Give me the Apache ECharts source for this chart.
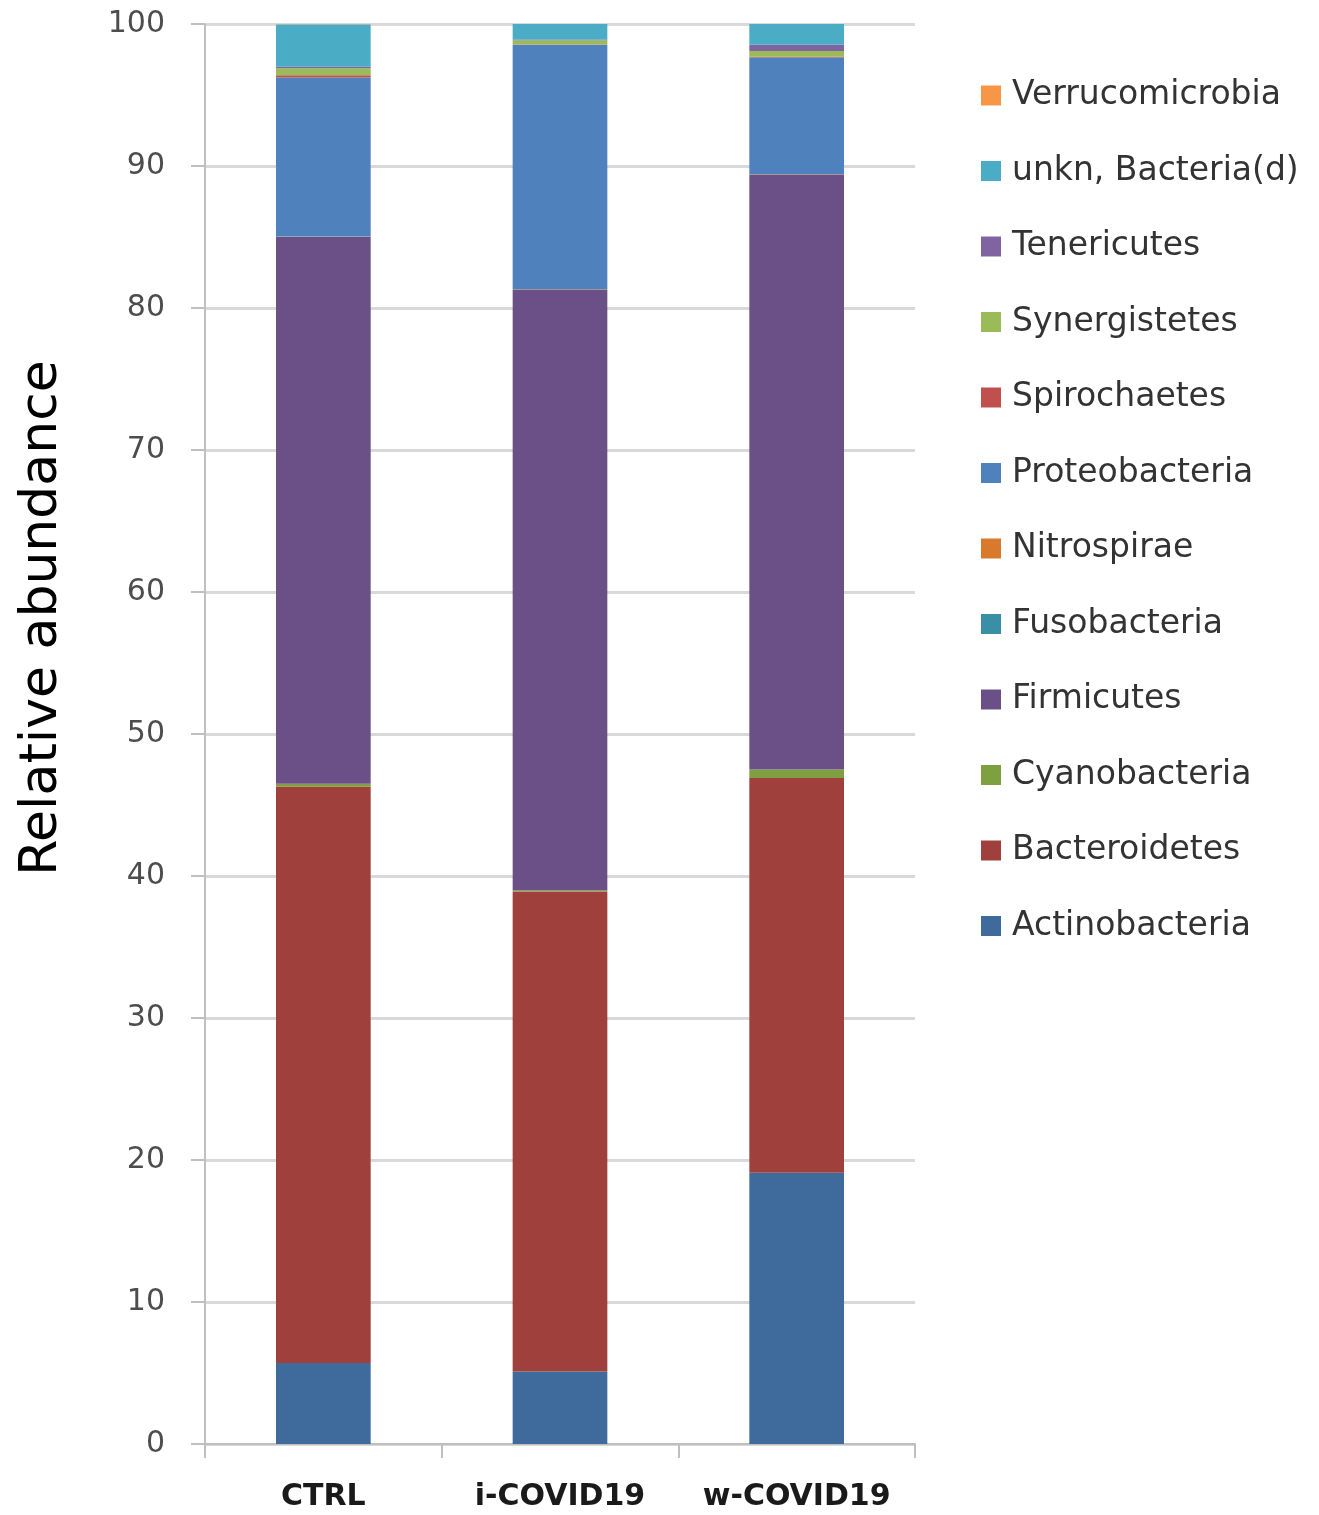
<!DOCTYPE html>
<html>
<head>
<meta charset="utf-8">
<script src="https://cdn.jsdelivr.net/npm/echarts@6/dist/echarts.min.js"></script>
<style>
html,body{margin:0;padding:0;background:#fff;}
#chart{width:1319px;height:1515px;}
</style>
</head>
<body>
<div id="chart"></div>
<script>
const categories = ['CTRL', 'i-COVID19', 'w-COVID19'];
const yTicks = [0, 10, 20, 30, 40, 50, 60, 70, 80, 90, 100];

const actinobacteria   = [5.7, 5.1, 19.1];
const bacteroidetes    = [40.6, 33.8, 27.8];
const cyanobacteria    = [0.2, 0.1, 0.6];
const firmicutes       = [38.5, 42.3, 41.9];
const fusobacteria     = [0.02, 0.02, 0.02];
const nitrospirae      = [0.02, 0.02, 0.02];
const proteobacteria   = [11.2, 17.2, 8.2];
const spirochaetes     = [0.15, 0.02, 0.05];
const synergistetes    = [0.5, 0.3, 0.4];
const tenericutes      = [0.1, 0.05, 0.45];
const unknBacteria     = [2.97, 1.2, 1.5];
const verrucomicrobia  = [0.02, 0.02, 0.02];

const seriesNames = ['Actinobacteria','Bacteroidetes','Cyanobacteria','Firmicutes','Fusobacteria','Nitrospirae','Proteobacteria','Spirochaetes','Synergistetes','Tenericutes','unkn, Bacteria(d)','Verrucomicrobia'];
const seriesData = [actinobacteria, bacteroidetes, cyanobacteria, firmicutes, fusobacteria, nitrospirae, proteobacteria, spirochaetes, synergistetes, tenericutes, unknBacteria, verrucomicrobia];
const seriesColors = ['#3F6A9C','#A0403D','#7FA041','#6A5087','#3A8EA6','#D9792C','#4F81BD','#C0504D','#9BBB59','#8064A2','#4BACC6','#F79646'];

const chart = echarts.init(document.getElementById('chart'), null, {renderer:'canvas'});
const option = {
  animation: false,
  backgroundColor: '#ffffff',
  grid: {left: 205, right: 404, top: 24, bottom: 71, containLabel: false},
  legend: {
    orient: 'vertical',
    left: 976,
    top: 74,
    data: seriesNames.slice().reverse(),
    icon: 'rect',
    itemWidth: 20,
    itemHeight: 20,
    itemGap: 42.5,
    textStyle: {fontFamily: 'DejaVu Sans', fontSize: 33, color: '#333333', lineHeight: 30, padding: [0,0,0,6]}
  },
  xAxis: {
    type: 'category',
    data: categories,
    axisLine: {lineStyle: {color: '#bfbfbf', width: 2}},
    axisTick: {show: true, interval: 0, length: 14, lineStyle: {color: '#bfbfbf', width: 2}},
    axisLabel: {interval: 0, fontFamily: 'DejaVu Sans', fontWeight: 'bold', fontSize: 30, color: '#1a1a1a', margin: 38}
  },
  yAxis: {
    type: 'value',
    min: 0, max: 100, interval: 10,
    axisLine: {show: true, lineStyle: {color: '#bfbfbf', width: 2}},
    axisTick: {show: true, length: 14, lineStyle: {color: '#bfbfbf', width: 2}},
    splitLine: {lineStyle: {color: '#d9d9d9', width: 3}},
    axisLabel: {fontFamily: 'DejaVu Sans', fontSize: 30, color: '#4d4d4d', margin: 40,
      formatter: v => yTicks.indexOf(v) >= 0 ? String(v) : ''}
  },
  graphic: [{
    type: 'text',
    x: 42, y: 618,
    rotation: Math.PI / 2,
    style: {text: 'Relative abundance', fontFamily: 'DejaVu Sans', fontSize: 52, fill: '#000000', align: 'center', verticalAlign: 'middle'}
  }],
  series: seriesNames.map((name, i) => ({
    name: name,
    type: 'bar',
    stack: 'total',
    barWidth: '40%',
    data: seriesData[i],
    itemStyle: {color: seriesColors[i]}
  }))
};
chart.setOption(option);
</script>
</body>
</html>
